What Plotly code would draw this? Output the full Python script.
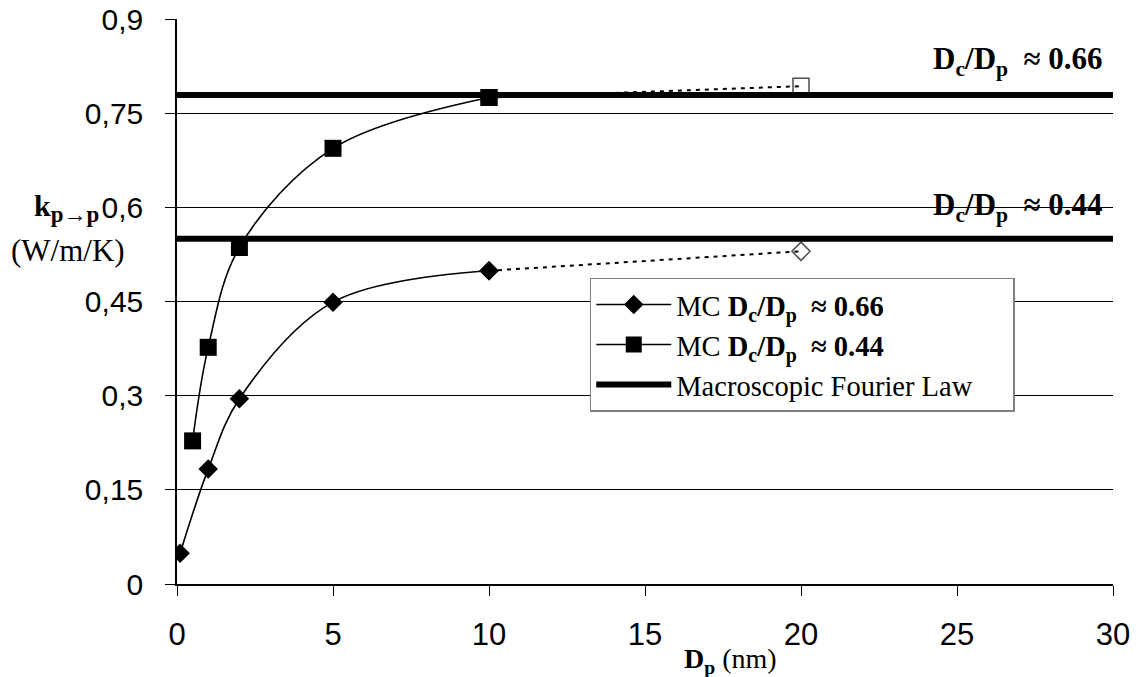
import plotly.graph_objects as go

# Data
dp_diamond = [0.1, 1, 2, 5, 10]
k_diamond = [0.049, 0.183, 0.295, 0.449, 0.499]
dp_diamond_ext = [10, 20]
k_diamond_ext = [0.499, 0.530]

dp_square = [0.5, 1, 2, 5, 10]
k_square = [0.228, 0.377, 0.536, 0.694, 0.775]
dp_square_ext = [10, 20]
k_square_ext = [0.775, 0.793]

fourier_x = [0, 30]
fourier_high = [0.779, 0.779]
fourier_low = [0.550, 0.550]

y_tickvals = [0, 0.15, 0.3, 0.45, 0.6, 0.75, 0.9]
y_ticktext = ["0", "0,15", "0,3", "0,45", "0,6", "0,75", "0,9"]
x_tickvals = [0, 5, 10, 15, 20, 25, 30]
x_ticktext = ["0", "5", "10", "15", "20", "25", "30"]

NB = "\u00a0"
serif = "Liberation Serif"
sans = "Liberation Sans"

fig = go.Figure()

fig.add_trace(go.Scatter(
    x=dp_diamond, y=k_diamond, mode="lines+markers",
    line=dict(color="black", width=1.6, shape="spline", smoothing=1.0),
    marker=dict(symbol="diamond", size=15, color="black"),
    name="MC <b>D<sub>c</sub>/D<sub>p</sub>" + NB + NB + "≈ 0.66</b>",
))
fig.add_trace(go.Scatter(
    x=dp_square, y=k_square, mode="lines+markers",
    line=dict(color="black", width=1.6, shape="spline", smoothing=1.0),
    marker=dict(symbol="square", size=17, color="black"),
    name="MC <b>D<sub>c</sub>/D<sub>p</sub>" + NB + NB + "≈ 0.44</b>",
))
fig.add_trace(go.Scatter(
    x=fourier_x, y=fourier_high, mode="lines",
    line=dict(color="black", width=6),
    name="Macroscopic Fourier Law" + NB * 5, legendgroup="f",
))
fig.add_trace(go.Scatter(
    x=fourier_x, y=fourier_low, mode="lines",
    line=dict(color="black", width=6),
    name="Macroscopic Fourier Law", legendgroup="f", showlegend=False,
))
fig.add_trace(go.Scatter(
    x=dp_diamond_ext, y=k_diamond_ext, mode="lines+markers",
    line=dict(color="black", width=2, dash="4px,5px"),
    marker=dict(symbol=["diamond", "diamond-open"], size=[0, 14], color="black",
                line=dict(color="black", width=1.5)),
    showlegend=False,
))
fig.add_trace(go.Scatter(
    x=dp_square_ext, y=k_square_ext, mode="lines+markers",
    line=dict(color="black", width=2, dash="4px,5px"),
    marker=dict(symbol=["square", "square-open"], size=[0, 16], color="black",
                line=dict(color="black", width=1.5)),
    showlegend=False,
))
# redraw solid markers on top at x=10
fig.add_trace(go.Scatter(
    x=[dp_diamond[-1]], y=[k_diamond[-1]], mode="markers",
    marker=dict(symbol="diamond", size=15, color="black"), showlegend=False,
))
fig.add_trace(go.Scatter(
    x=[dp_square[-1]], y=[k_square[-1]], mode="markers",
    marker=dict(symbol="square", size=17, color="black"), showlegend=False,
))

fig.update_layout(
    width=1140, height=677,
    paper_bgcolor="white", plot_bgcolor="white",
    margin=dict(l=177, r=27, t=19, b=93, autoexpand=False),
    showlegend=True,
    legend=dict(
        x=0.441, y=0.5416, xanchor="left", yanchor="top",
        bgcolor="white", bordercolor="#808080", borderwidth=1.5,
        font=dict(family=serif, size=28.5, color="black"),
        itemwidth=75, tracegroupgap=0,
    ),
    xaxis=dict(
        range=[0, 30], tickvals=x_tickvals, ticktext=x_ticktext,
        showgrid=False, zeroline=False, automargin=False,
        showline=True, linecolor="black", linewidth=1.5,
        ticks="outside", ticklen=10, tickcolor="black", tickwidth=1,
        ticklabelstandoff=12,
        tickfont=dict(family=sans, size=31, color="black"),
    ),
    yaxis=dict(
        range=[0, 0.9], tickvals=y_tickvals, ticktext=y_ticktext,
        showgrid=True, gridcolor="black", gridwidth=1,
        zeroline=False, automargin=False,
        showline=True, linecolor="black", linewidth=1.5,
        ticks="outside", ticklen=10, tickcolor="black", tickwidth=1,
        ticklabelstandoff=16,
        tickfont=dict(family=sans, size=30, color="black"),
    ),
    annotations=[
        dict(text="<b>D<sub>c</sub>/D<sub>p</sub>" + NB + NB + "≈ 0.66</b>",
             xref="paper", yref="paper", x=0.9915, y=0.926, xanchor="right", yanchor="middle",
             showarrow=False, font=dict(family=serif, size=31, color="black")),
        dict(text="<b>D<sub>c</sub>/D<sub>p</sub>" + NB + NB + "≈ 0.44</b>",
             xref="paper", yref="paper", x=0.9915, y=0.667, xanchor="right", yanchor="middle",
             showarrow=False, font=dict(family=serif, size=31, color="black")),
        dict(text="<b>k<sub><span style='font-size:23px'>p→p</span></sub></b>",
             xref="paper", yref="paper", x=-0.081, y=0.665, xanchor="right", yanchor="middle",
             showarrow=False, font=dict(family=serif, size=30, color="black")),
        dict(text="(W/m/K)",
             xref="paper", yref="paper", x=-0.053, y=0.59, xanchor="right", yanchor="middle",
             showarrow=False, font=dict(family=serif, size=31, color="black")),
        dict(text="<b>D<sub>p</sub></b>" + NB + "(nm)",
             xref="paper", yref="paper", x=0.591, y=-0.135, xanchor="center", yanchor="middle",
             showarrow=False, font=dict(family=serif, size=28, color="black")),
    ],
)

fig.write_html("out.html")
